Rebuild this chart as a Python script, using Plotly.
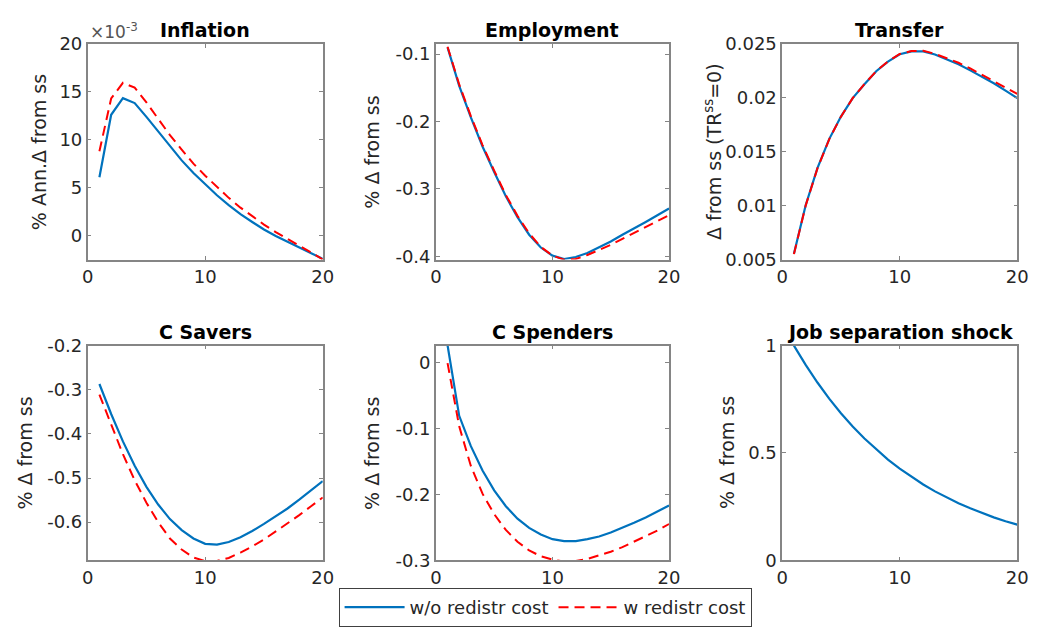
import plotly.graph_objects as go

# Impulse responses to a job separation shock, quarters 1..20
quarters = list(range(1, 21))

# Inflation (in units of 1e-3, % annualised deviation from steady state)
inflation_wo = [6.11, 12.62, 14.35, 13.84, 12.4, 10.86, 9.33, 7.87, 6.55, 5.36,
                4.24, 3.22, 2.27, 1.46, 0.68, 0.0, -0.61, -1.22, -1.8, -2.38]
inflation_w = [8.82, 14.32, 15.95, 15.44, 13.9, 12.2, 10.5, 9.0, 7.53, 6.28,
               5.09, 3.97, 2.95, 2.04, 1.19, 0.41, -0.34, -1.02, -1.7, -2.44]

employment_wo = [-0.09, -0.147, -0.194, -0.237, -0.275, -0.311, -0.342, -0.368, -0.387, -0.399,
                 -0.404, -0.401, -0.395, -0.387, -0.378, -0.368, -0.359, -0.349, -0.339, -0.329]
employment_w = [-0.089, -0.145, -0.192, -0.235, -0.273, -0.309, -0.340, -0.366, -0.386, -0.399,
                -0.405, -0.404, -0.398, -0.391, -0.383, -0.374, -0.365, -0.356, -0.347, -0.339]

transfer_wo = [0.00554, 0.01003, 0.01347, 0.01617, 0.01826, 0.01997, 0.02126, 0.02246, 0.02335, 0.02404,
               0.02431, 0.02431, 0.02401, 0.02359, 0.02311, 0.02254, 0.02195, 0.02135, 0.02066, 0.01997]
transfer_w = [0.00550, 0.01000, 0.01345, 0.01615, 0.01825, 0.01997, 0.02127, 0.02247, 0.02337, 0.02406,
              0.02434, 0.02436, 0.02408, 0.02368, 0.02325, 0.02272, 0.02215, 0.02158, 0.02095, 0.02036]

c_savers_wo = [-0.287, -0.355, -0.417, -0.472, -0.520, -0.560, -0.593, -0.618, -0.637, -0.649,
               -0.651, -0.645, -0.634, -0.620, -0.604, -0.587, -0.569, -0.549, -0.528, -0.507]
c_savers_w = [-0.311, -0.380, -0.446, -0.505, -0.556, -0.600, -0.637, -0.662, -0.680, -0.688,
              -0.688, -0.681, -0.669, -0.655, -0.639, -0.621, -0.603, -0.584, -0.564, -0.544]

c_spenders_wo = [0.026, -0.081, -0.127, -0.164, -0.194, -0.218, -0.237, -0.251, -0.261, -0.268,
                 -0.271, -0.271, -0.268, -0.264, -0.258, -0.251, -0.243, -0.235, -0.226, -0.217]
c_spenders_w = [-0.001, -0.097, -0.157, -0.199, -0.230, -0.254, -0.272, -0.285, -0.294, -0.299,
                -0.302, -0.301, -0.298, -0.293, -0.287, -0.280, -0.272, -0.264, -0.255, -0.245]

separation_shock = [1.0, 0.91, 0.828, 0.753, 0.685, 0.623, 0.567, 0.516, 0.469, 0.427,
                    0.388, 0.353, 0.321, 0.292, 0.266, 0.242, 0.220, 0.200, 0.182, 0.166]

titles = ["Inflation", "Employment", "Transfer", "C Savers", "C Spenders", "Job separation shock"]
ylabels = ["% Ann.Δ from ss", "% Δ from ss", "Δ from ss (TR<sup>ss</sup>=0)",
           "% Δ from ss", "% Δ from ss", "% Δ from ss"]
series_wo = [inflation_wo, employment_wo, transfer_wo, c_savers_wo, c_spenders_wo, separation_shock]
series_w = [inflation_w, employment_w, transfer_w, c_savers_w, c_spenders_w, None]

y_ranges = [[-2.45, 20], [-0.4048, -0.0848], [0.005, 0.025],
            [-0.6863, -0.2], [-0.3, 0.0255], [0, 1]]
y_tickvals = [[0, 5, 10, 15, 20], [-0.4, -0.3, -0.2, -0.1],
              [0.005, 0.01, 0.015, 0.02, 0.025],
              [-0.6, -0.5, -0.4, -0.3, -0.2], [-0.3, -0.2, -0.1, 0], [0, 0.5, 1]]
y_ticktext = [["0", "5", "10", "15", "20"], ["-0.4", "-0.3", "-0.2", "-0.1"],
              ["0.005", "0.01", "0.015", "0.02", "0.025"],
              ["-0.6", "-0.5", "-0.4", "-0.3", "-0.2"], ["-0.3", "-0.2", "-0.1", "0"],
              ["0", "0.5", "1"]]

W, H = 1045, 637
col_px = [(83, 322), (437, 674), (789, 1028)]
row_px = [(34, 257), (346, 568)]
# horizontal centre (px) of each y-axis label
ylabel_x_px = [33, 372, 718, 19, 372, 733]

BLUE = "#0072BD"
RED = "#FF0000"
AXIS = "#858585"
TEXT = "#262626"
FONT = "DejaVu Sans"

fig = go.Figure()
layout = {}
annotations = []

for i in range(6):
    r, c = divmod(i, 3)
    n = i + 1
    xa = "x" if n == 1 else f"x{n}"
    ya = "y" if n == 1 else f"y{n}"
    xd = [col_px[c][0] / W, col_px[c][1] / W]
    yd = [1 - row_px[r][1] / H, 1 - row_px[r][0] / H]

    fig.add_trace(go.Scatter(x=quarters, y=series_wo[i], mode="lines",
                             line=dict(color=BLUE, width=2.2),
                             name="w/o redistr cost", showlegend=(i == 0),
                             xaxis=xa, yaxis=ya))
    if series_w[i] is not None:
        fig.add_trace(go.Scatter(x=quarters, y=series_w[i], mode="lines",
                                 line=dict(color=RED, width=2, dash="10px,6px"),
                                 name="w redistr cost", showlegend=(i == 0),
                                 xaxis=xa, yaxis=ya))

    common = dict(showline=True, mirror="ticks", linecolor=AXIS, linewidth=1.5,
                  ticks="inside", ticklen=4, tickcolor=AXIS, tickwidth=1,
                  showgrid=False, zeroline=False,
                  tickfont=dict(family=FONT, size=18, color=TEXT))
    layout["xaxis" if n == 1 else f"xaxis{n}"] = dict(
        domain=xd, anchor=ya, range=[0, 20], tickvals=[0, 10, 20], **common)
    layout["yaxis" if n == 1 else f"yaxis{n}"] = dict(
        domain=yd, anchor=xa, range=y_ranges[i], tickvals=y_tickvals[i],
        ticktext=y_ticktext[i], **common)

    annotations.append(dict(text=f"<b>{titles[i]}</b>", xref="paper", yref="paper",
                            x=(xd[0] + xd[1]) / 2, y=yd[1], xanchor="center",
                            yanchor="bottom", yshift=1, showarrow=False,
                            font=dict(family=FONT, size=19, color="black")))
    annotations.append(dict(text=ylabels[i], xref="paper", yref="paper",
                            x=ylabel_x_px[i] / W, y=(yd[0] + yd[1]) / 2,
                            xanchor="center", yanchor="middle", textangle=-90,
                            showarrow=False,
                            font=dict(family=FONT, size=19, color=TEXT)))

# Exponent marker for the inflation axis
annotations.append(dict(text="×10<sup>-3</sup>", xref="paper", yref="paper",
                        x=col_px[0][0] / W, y=1 - row_px[0][0] / H, xanchor="left",
                        yanchor="bottom", yshift=0, showarrow=False,
                        font=dict(family=FONT, size=17, color="#555555")))

fig.update_layout(
    **layout,
    annotations=annotations,
    width=W, height=H,
    margin=dict(l=0, r=0, t=0, b=0),
    paper_bgcolor="white", plot_bgcolor="white",
    font=dict(family=FONT, color=TEXT),
    legend=dict(orientation="h", x=548 / W, y=0, xanchor="center", yanchor="bottom",
                bordercolor="#404040", borderwidth=1, bgcolor="white",
                font=dict(family=FONT, size=18, color=TEXT),
                itemwidth=60, tracegroupgap=0),
)

fig.write_html("out.html")
